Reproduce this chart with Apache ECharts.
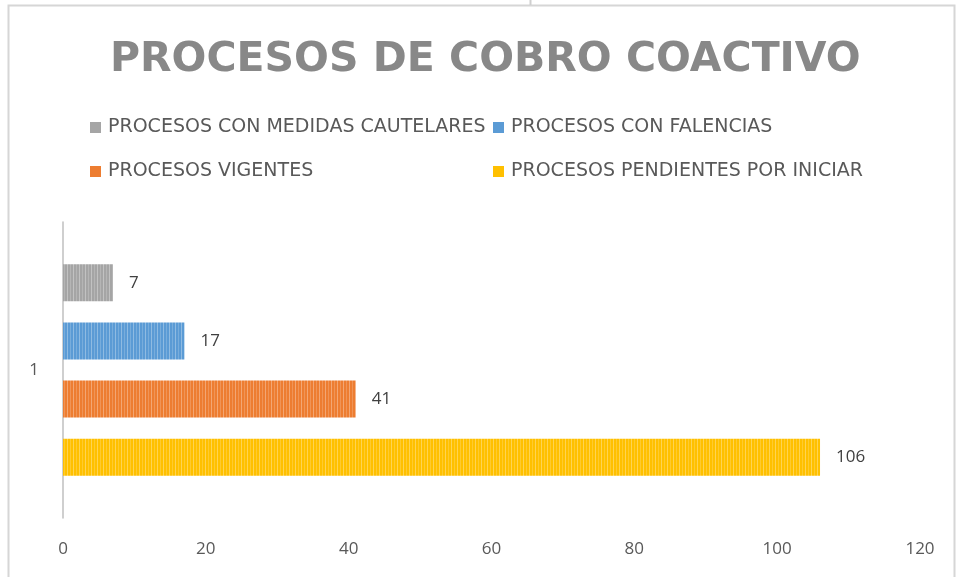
<!DOCTYPE html>
<html>
<head>
<meta charset="utf-8">
<script src="https://cdn.jsdelivr.net/npm/echarts@6/dist/echarts.min.js"></script>
<style>
  html, body { margin: 0; padding: 0; background: #ffffff; }
  #chart { width: 957px; height: 577px; }
</style>
</head>
<body>
<div id="chart"></div>
<script>
// Single category with four process counts
const categories = ['1'];
const seriesNames = [
  'PROCESOS CON MEDIDAS CAUTELARES',
  'PROCESOS CON FALENCIAS',
  'PROCESOS VIGENTES',
  'PROCESOS PENDIENTES POR INICIAR'
];
const seriesValues = [[7], [17], [41], [106]];
const seriesColors = ['#A5A5A5', '#5B9BD5', '#ED7D31', '#FFC000'];
const xTicks = { min: 0, max: 120, interval: 20 };

const chart = echarts.init(document.getElementById('chart'), null, { renderer: 'canvas' });

// Repeating tile: base colour with thin lighter vertical stripes
function stripeFill(base) {
  const c = document.createElement('canvas');
  c.width = 6;
  c.height = 4;
  const ctx = c.getContext('2d');
  ctx.fillStyle = base;
  ctx.fillRect(0, 0, 6, 4);
  ctx.fillStyle = 'rgba(255,255,255,0.32)';
  ctx.fillRect(1, 0, 1, 4);
  ctx.fillStyle = 'rgba(255,255,255,0.18)';
  ctx.fillRect(4, 0, 1, 4);
  return { image: c, repeat: 'repeat' };
}

const legendPos = [
  { left: 90, top: 118 },
  { left: 493, top: 118 },
  { left: 90, top: 162 },
  { left: 493, top: 162 }
];

const option = {
  backgroundColor: '#ffffff',
  animation: false,
  color: seriesColors,
  title: {
    text: 'PROCESOS DE COBRO COACTIVO',
    left: 105,
    top: 35,
    textStyle: {
      fontFamily: 'DejaVu Sans',
      fontWeight: 'bold',
      fontSize: 41,
      color: '#888888'
    }
  },
  legend: seriesNames.map((name, i) => ({
    data: [{ name: name, itemStyle: { color: seriesColors[i] } }],
    left: legendPos[i].left,
    top: legendPos[i].top,
    icon: 'rect',
    itemWidth: 11,
    itemHeight: 11,
    itemGap: 0,
    padding: 0,
    selectedMode: false,
    textStyle: {
      fontFamily: 'DejaVu Sans',
      fontSize: 19,
      color: '#595959',
      padding: [0, 0, 0, 2]
    }
  })),
  grid: { left: 63, right: 37, top: 222, bottom: 59, containLabel: false },
  xAxis: {
    type: 'value',
    min: xTicks.min,
    max: xTicks.max,
    interval: xTicks.interval,
    axisLine: { show: false },
    axisTick: { show: false },
    splitLine: { show: false },
    axisLabel: {
      margin: 23,
      fontFamily: 'Open Sans',
      fontSize: 17,
      color: '#595959'
    }
  },
  yAxis: {
    type: 'category',
    data: categories,
    inverse: true,
    axisLine: { show: true, lineStyle: { color: '#bfbfbf', width: 1.5 } },
    axisTick: { show: false },
    axisLabel: {
      margin: 24,
      fontFamily: 'Open Sans',
      fontSize: 17,
      color: '#595959'
    }
  },
  series: seriesNames.map((name, i) => ({
    name: name,
    type: 'bar',
    data: seriesValues[i],
    barWidth: 37,
    barGap: '57%',
    itemStyle: { color: stripeFill(seriesColors[i]) },
    label: {
      show: true,
      position: 'right',
      distance: 16,
      fontFamily: 'Open Sans',
      fontSize: 17,
      color: '#404040'
    }
  })),
  graphic: [
    {
      type: 'rect',
      silent: true,
      z: -10,
      shape: { x: 8.5, y: 5.5, width: 946, height: 620 },
      style: { fill: 'none', stroke: '#d6d6d6', lineWidth: 2 }
    },
    {
      type: 'line',
      silent: true,
      shape: { x1: 530.5, y1: 0, x2: 530.5, y2: 5 },
      style: { stroke: '#cfcfcf', lineWidth: 2 }
    }
  ]
};

chart.setOption(option);
</script>
</body>
</html>
